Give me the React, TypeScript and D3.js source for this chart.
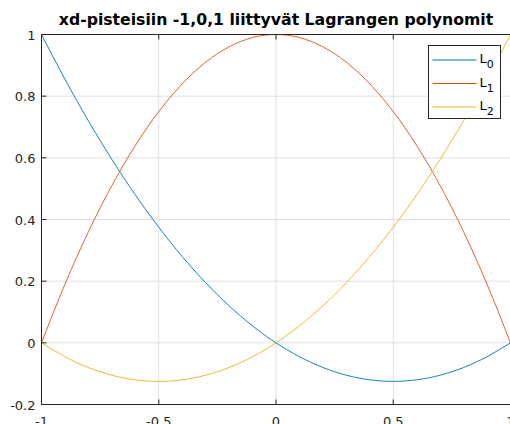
import React from "react";
import * as d3 from "d3";

const xs = [-1, -0.9, -0.8, -0.7, -0.6, -0.5, -0.4, -0.3, -0.2, -0.1, 0, 0.1, 0.2, 0.3, 0.4, 0.5, 0.6, 0.7, 0.8, 0.9, 1];
const L0 = [1, 0.855, 0.72, 0.595, 0.48, 0.375, 0.28, 0.195, 0.12, 0.055, 0, -0.045, -0.08, -0.105, -0.12, -0.125, -0.12, -0.105, -0.08, -0.045, 0];
const L1 = [0, 0.19, 0.36, 0.51, 0.64, 0.75, 0.84, 0.91, 0.96, 0.99, 1, 0.99, 0.96, 0.91, 0.84, 0.75, 0.64, 0.51, 0.36, 0.19, 0];
const L2 = [0, -0.045, -0.08, -0.105, -0.12, -0.125, -0.12, -0.105, -0.08, -0.045, 0, 0.055, 0.12, 0.195, 0.28, 0.375, 0.48, 0.595, 0.72, 0.855, 1];
const seriesNames = ["0", "1", "2"];
const colors = ["#0072BD", "#D95319", "#EDB120"];
const xTicks = [-1, -0.5, 0, 0.5, 1];
const yTicks = [-0.2, 0, 0.2, 0.4, 0.6, 0.8, 1];
const title = "xd-pisteisiin -1,0,1 liittyvät Lagrangen polynomit";

const W = 510;
const H = 424;
const left = 41.5;
const right = 510.5;
const top = 34.5;
const bottom = 404.5;
const font = "DejaVu Sans, sans-serif";
const axisColor = "#262626";

export default function App() {
  const x = d3.scaleLinear().domain([-1, 1]).range([left, right]);
  const y = d3.scaleLinear().domain([-0.2, 1]).range([bottom, top]);
  const series = [L0, L1, L2];
  const line = d3
    .line<number>()
    .x((d, i) => x(xs[i]))
    .y((d) => y(d))
    .curve(d3.curveNatural);

  const legX = 428.5;
  const legY = 45.5;

  return (
    <svg
      width={W}
      height={H}
      style={{ position: "absolute", left: 0, top: 0, background: "white" }}
      fontFamily={font}
    >
      {/* grid */}
      {xTicks.map((t) => (
        <line key={"gx" + t} x1={x(t)} x2={x(t)} y1={top} y2={bottom} stroke="#e0e0e0" strokeWidth={1} />
      ))}
      {yTicks.map((t) => (
        <line key={"gy" + t} x1={left} x2={right} y1={y(t)} y2={y(t)} stroke="#e0e0e0" strokeWidth={1} />
      ))}

      {/* curves */}
      {series.map((s, i) => (
        <path key={i} d={line(s) || ""} fill="none" stroke={colors[i]} strokeWidth={0.9} />
      ))}

      {/* box */}
      <line x1={left} x2={right} y1={top} y2={top} stroke={axisColor} />
      <line x1={left} x2={right} y1={bottom} y2={bottom} stroke={axisColor} />
      <line x1={left} x2={left} y1={top} y2={bottom} stroke={axisColor} />

      {/* ticks */}
      {xTicks.map((t) => (
        <g key={"tx" + t}>
          <line x1={x(t)} x2={x(t)} y1={bottom} y2={bottom - 5} stroke={axisColor} />
          <line x1={x(t)} x2={x(t)} y1={top} y2={top + 5} stroke={axisColor} />
          <text x={x(t)} y={bottom + 21} textAnchor="middle" fontSize={13} fill={axisColor}>
            {String(t)}
          </text>
        </g>
      ))}
      {yTicks.map((t) => (
        <g key={"ty" + t}>
          <line x1={left} x2={left + 5} y1={y(t)} y2={y(t)} stroke={axisColor} />
          <text x={left - 6} y={y(t) + 5} textAnchor="end" fontSize={13} fill={axisColor}>
            {String(t)}
          </text>
        </g>
      ))}

      {/* title */}
      <text x={276} y={25} textAnchor="middle" fontSize={15.7} fontWeight="bold" fill="#000">
        {title}
      </text>

      {/* legend */}
      <rect x={legX} y={legY} width={72} height={73} fill="white" stroke={axisColor} strokeWidth={1} />
      {seriesNames.map((n, i) => {
        const ly = legY + 14.5 + i * 23.5;
        return (
          <g key={"leg" + n}>
            <line x1={legX + 4} x2={legX + 48} y1={ly} y2={ly} stroke={colors[i]} strokeWidth={1} />
            <text x={legX + 51} y={ly + 3} fontSize={13} fill="#000">
              L<tspan fontSize={11} dy={5}>{n}</tspan>
            </text>
          </g>
        );
      })}
    </svg>
  );
}
